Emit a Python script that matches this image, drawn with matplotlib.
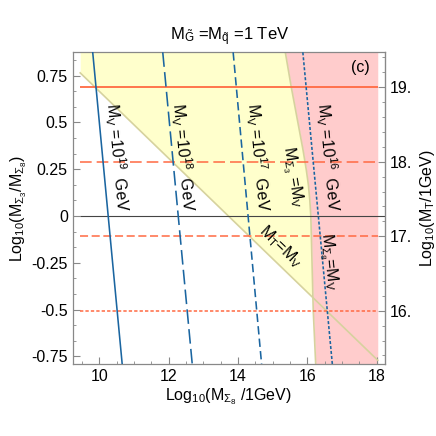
import numpy as np
import matplotlib
matplotlib.use("Agg")
import matplotlib.pyplot as plt
from matplotlib.ticker import MultipleLocator, FixedLocator, FixedFormatter

plt.rcParams['font.family'] = ['Liberation Sans', 'DejaVu Sans']
plt.rcParams['mathtext.fontset'] = 'custom'
plt.rcParams['mathtext.rm'] = 'Liberation Sans'
plt.rcParams['mathtext.it'] = 'Liberation Sans:italic'
plt.rcParams['mathtext.bf'] = 'Liberation Sans:bold'
plt.rcParams['lines.scale_dashes'] = False

# ---------------- data ----------------
x_range = [9.45, 18.03]          # extent of the computed region
y_range = [-0.791, 0.875]

# M_V contours: x at top (y=0.875) and bottom (y=-0.791)
MV_exp = [19, 18, 17, 16]
MV_top_x = [9.81, 11.83, 13.86, 15.87]
MV_bot_x = [10.66, 12.68, 14.68, 16.72]

# M_T levels (right axis)
MT_levels = [19, 18, 17, 16]

# M_T = M_V line
diag_x = [9.45, 18.03]
diag_y = [0.765, -0.771]

# M_Sigma3 = M_V boundary
bnd_y = [-0.791, -0.506, 0.0, 0.086, 0.166, 0.246, 0.353, 0.688, 0.875]
bnd_x = [16.24, 16.17, 16.10, 16.07, 16.03, 15.97, 15.875, 15.537, 15.364]

xticks = [10, 12, 14, 16, 18]
xticklabels = ['10', '12', '14', '16', '18']
yticks = [0.75, 0.5, 0.25, 0, -0.25, -0.5, -0.75]
yticklabels = ['0.75', '0.5', '0.25', '0', '-0.25', '-0.5', '-0.75']
rticks = [16, 17, 18, 19]
rticklabels = ['16.', '17.', '18.', '19.']

# ---------------- styling ----------------
blue = '#1a65a0'
red = '#ff6a42'
yellow = '#ffffcc'
pink = '#ffcccc'
khaki = '#d6d29e'
frame = '#888888'
fs = 11.5

blue_styles = ['-', (0, (10.5, 3.8)), (0, (6.0, 3.0)), (0, (2.2, 1.4))]
red_styles = ['-', (0, (8.4, 3.6)), (0, (5.8, 2.6)), (0, (2.4, 1.5))]
red_lw = [1.3, 1.1, 1.1, 1.1]

fig = plt.figure(figsize=(4.36, 4.36), dpi=100)
ax = fig.add_axes([72.7/436, 1-364/436, (385-72.7)/436, (364-52.3)/436])
ax.set_xlim(9.233, 18.239)
ax.set_ylim(-0.791, 0.875)

# regions
yg = np.linspace(y_range[0], y_range[1], 600)
xb = np.interp(yg, bnd_y, bnd_x)
xd = np.interp(yg, diag_y[::-1], diag_x[::-1])
ax.fill_betweenx(yg, xd, xb, where=xd < xb, color=yellow, lw=0, zorder=1)
ax.fill_betweenx(yg, xb, x_range[1], color=pink, lw=0, zorder=1)
ax.plot(bnd_x, bnd_y, color=khaki, lw=1.2, zorder=2)
ax.plot(diag_x, diag_y, color=khaki, lw=1.2, zorder=2)

# y = 0 line
ax.hlines(0, x_range[0], 18.239, color='#444444', lw=0.8, zorder=2)

# right axis mapping
def fwd(y):
    return 17.272 + 2.511 * np.asarray(y)

def inv(t):
    return (np.asarray(t) - 17.272) / 2.511

for lvl, ls, lw in zip(MT_levels, red_styles, red_lw):
    ax.hlines(inv(lvl), x_range[0], x_range[1], color=red, lw=lw, linestyles=[ls], zorder=3)

for xt, xbt, ls in zip(MV_top_x, MV_bot_x, blue_styles):
    ax.plot([xt, xbt], [y_range[1], y_range[0]], color=blue, lw=1.15, ls=ls, zorder=4)

# labels in plot
rot = -84.6
lab_kw = dict(rotation=rot, rotation_mode='anchor', ha='center', va='center', fontsize=fs, zorder=5)
mv_lab_x = [10.50, 12.41, 14.58, 16.58]
for e, xl in zip(MV_exp, mv_lab_x):
    ax.text(xl, 0.313, r'M$_\mathrm{V}$ =10$^{%d}$  GeV' % e, **lab_kw)
ax.text(15.56, 0.21, r'M$_{\Sigma_3}$ =M$_\mathrm{V}$', rotation=-81, rotation_mode='anchor',
        ha='center', va='center', fontsize=fs, zorder=5)
ax.text(15.24, -0.166, r'M$_\mathrm{T}$=M$_\mathrm{V}$', rotation=-44, rotation_mode='anchor',
        ha='center', va='center', fontsize=fs, zorder=5)
ax.text(16.6, -0.246, r'M$_{\Sigma_8}$=M$_\mathrm{V}$', rotation=-84, rotation_mode='anchor',
        ha='center', va='center', fontsize=fs, zorder=5)
ax.text(17.54, 0.795, '(c)', ha='center', va='center', fontsize=fs, zorder=5)

# ticks
ax.xaxis.set_major_locator(FixedLocator(xticks))
ax.xaxis.set_major_formatter(FixedFormatter(xticklabels))
ax.xaxis.set_minor_locator(MultipleLocator(0.5))
ax.yaxis.set_major_locator(FixedLocator(yticks))
ax.yaxis.set_major_formatter(FixedFormatter(yticklabels))
ax.yaxis.set_minor_locator(MultipleLocator(0.25/3))
ax.tick_params(which='both', direction='in', color=frame, labelsize=fs, top=False, right=False)
ax.tick_params(which='major', length=5, width=0.8)
ax.tick_params(which='minor', length=2.5, width=0.6)
for s in ax.spines.values():
    s.set_color(frame)
    s.set_linewidth(0.9)

sec = ax.secondary_yaxis('right', functions=(fwd, inv))
sec.yaxis.set_major_locator(FixedLocator(rticks))
sec.yaxis.set_major_formatter(FixedFormatter(rticklabels))
sec.yaxis.set_minor_locator(MultipleLocator(0.2))
sec.tick_params(which='both', direction='in', color=frame, labelsize=fs)
sec.tick_params(which='major', length=5, width=0.8)
sec.tick_params(which='minor', length=2.5, width=0.6)
sec.spines['right'].set_color(frame)

ax.set_xlabel(r'Log$_{10}$(M$_{\Sigma_8}$ /1GeV)', fontsize=fs, labelpad=2)
ax.set_ylabel(r'Log$_{10}$(M$_{\Sigma_3}$/M$_{\Sigma_8}$)', fontsize=fs, labelpad=2)
sec.set_ylabel(r'Log$_{10}$(M$_\mathrm{T}$/1GeV)', fontsize=fs, labelpad=4)

fig.text(229.5/436, 1-37/436, r'M$_{\tilde{\mathrm{G}}}$ =M$_{\tilde{\mathrm{q}}}$ =1 TeV',
         ha='center', va='center', fontsize=12)

fig.savefig('out.png', dpi=100)
